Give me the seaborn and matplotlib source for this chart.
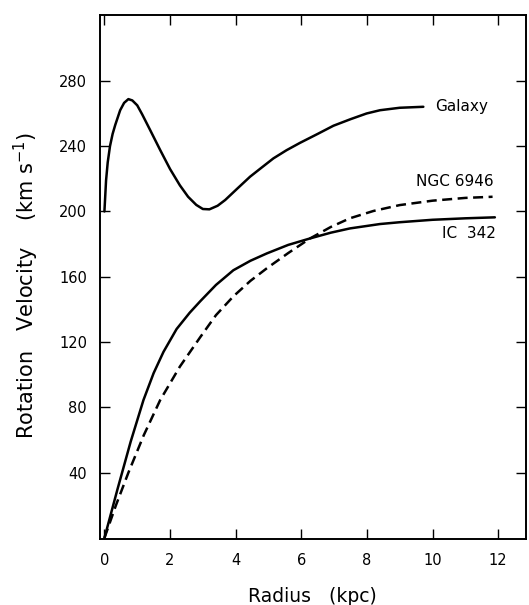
import matplotlib
matplotlib.use("Agg")
import matplotlib.pyplot as plt
import seaborn as sns
import pandas as pd

galaxy_r = [0, 0.05, 0.1, 0.17, 0.25, 0.33, 0.48, 0.6, 0.73, 0.85, 1.0, 1.15, 1.39, 1.7, 2.0, 2.3, 2.55, 2.8, 3.0, 3.2, 3.45, 3.68, 4.05, 4.44, 4.8, 5.15, 5.55, 5.96, 6.5, 6.98, 7.5, 7.99, 8.4, 9.0, 9.72]
galaxy_v = [200, 219, 230, 240, 247.5, 253, 262, 266.5, 268.8, 268, 265, 259.5, 250, 237.6, 226, 216, 209, 204, 201.5, 201.3, 203.5, 207, 214, 221.3, 227, 232.5, 237.5, 242, 247.5, 252.5, 256.5, 260, 262, 263.5, 264.1]

ic342_r = [0, 0.4, 0.8, 1.19, 1.5, 1.8, 2.2, 2.6, 2.92, 3.4, 3.93, 4.45, 4.95, 5.6, 6.27, 6.9, 7.48, 8.4, 9.0, 10.0, 11.0, 11.9]
ic342_v = [0, 30, 59, 84.5, 101, 114, 128, 138, 145, 155, 164, 169.8, 174.3, 179.5, 183.5, 187, 189.6, 192.3, 193.4, 194.9, 195.8, 196.4]

ngc6946_r = [0, 0.35, 0.73, 1.2, 1.7, 2.3, 2.92, 3.4, 3.93, 4.45, 4.95, 5.6, 6.27, 6.9, 7.48, 8.2, 9.0, 10.0, 11.0, 11.83]
ngc6946_v = [0, 20, 40, 63, 84.5, 105, 123, 136.5, 148, 157.5, 165.2, 174.5, 183.5, 190.5, 195.8, 200.3, 203.9, 206.6, 208.3, 209]

x_ticks = [0, 2, 4, 6, 8, 10, 12]
y_ticks = [40, 80, 120, 160, 200, 240, 280]

sns.set_style("ticks")
plt.rcParams['font.family'] = ['DejaVu Sans']
plt.rcParams['text.color'] = 'black'
plt.rcParams['axes.labelcolor'] = 'black'

W, H = 529, 605
fig = plt.figure(figsize=(W / 100, H / 100), dpi=100)
left, right, top, bottom = 99.5, 525.7, 14.7, 539.0
ax = fig.add_axes([left / W, 1 - bottom / H, (right - left) / W, (bottom - top) / H])

df_g = pd.DataFrame({"r": galaxy_r, "v": galaxy_v})
df_i = pd.DataFrame({"r": ic342_r, "v": ic342_v})
df_n = pd.DataFrame({"r": ngc6946_r, "v": ngc6946_v})

lw = 1.8
sns.lineplot(data=df_g, x="r", y="v", ax=ax, color="black", linewidth=lw, sort=False)
sns.lineplot(data=df_i, x="r", y="v", ax=ax, color="black", linewidth=lw, sort=False)
sns.lineplot(data=df_n, x="r", y="v", ax=ax, color="black", linewidth=lw, sort=False,
             linestyle=(0, (4, 2.2)))

ax.set_xlim(-0.15, 12.84)
ax.set_ylim(-0.6, 320.5)
ax.set_xticks(x_ticks)
ax.set_yticks(y_ticks)
ax.set_xticklabels([str(t) for t in x_ticks])
ax.set_yticklabels([str(t) for t in y_ticks])
ax.tick_params(direction="in", length=7.5, width=1.0, labelsize=10.5,
               top=True, right=True, colors="black")
ax.tick_params(axis="x", pad=10)
ax.tick_params(axis="y", pad=9)
for s in ax.spines.values():
    s.set_linewidth(1.4)
    s.set_color("black")

ax.set_xlabel("Radius   (kpc)", fontsize=13.5, labelpad=14)
ax.set_ylabel("Rotation   Velocity    (km s$^{-1}$)", fontsize=15)
ax.yaxis.set_label_coords(-0.138, 0.4835)

ax.text(10.07, 264.5, "Galaxy", fontsize=11, va="center", ha="left")
ax.text(11.87, 218.6, "NGC 6946", fontsize=11, va="center", ha="right")
ax.text(11.92, 186.3, "IC  342", fontsize=11, va="center", ha="right")

fig.savefig("out.png", dpi=100)
